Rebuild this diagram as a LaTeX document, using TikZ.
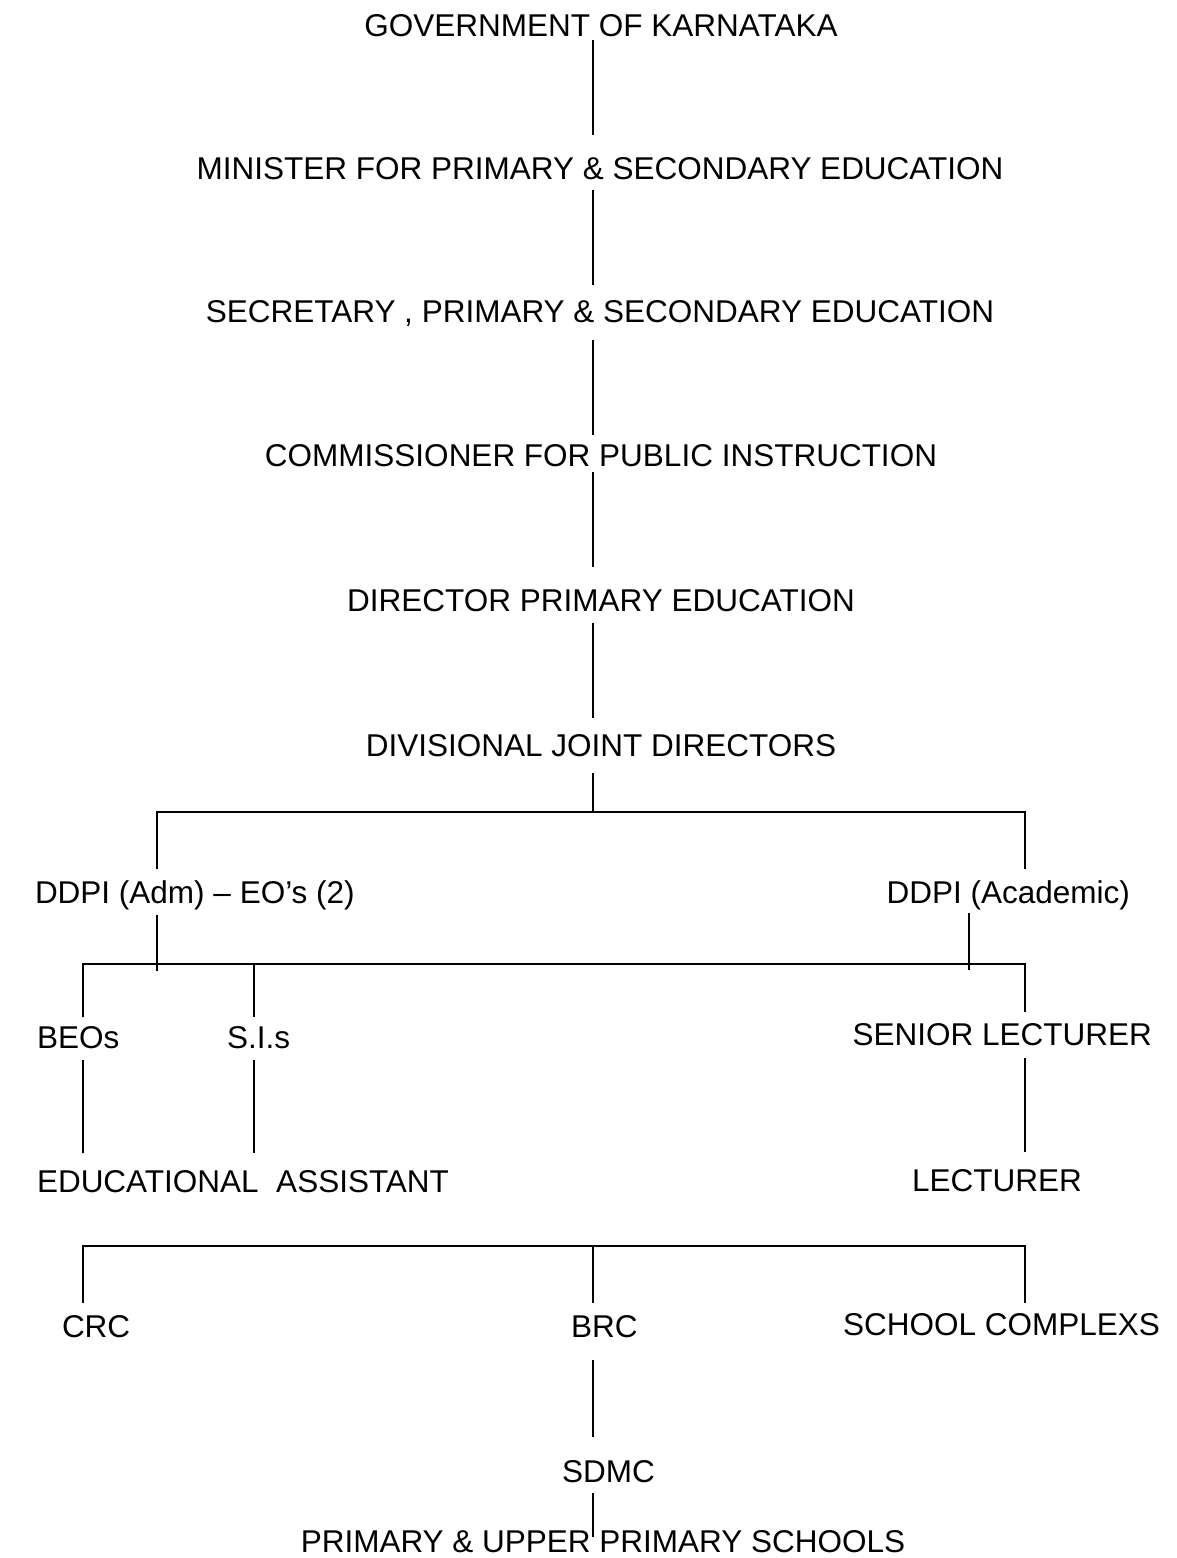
\documentclass[tikz,border=0pt]{standalone}
\usepackage{fontspec}
\setmainfont{Liberation Sans}
\begin{document}
\begin{tikzpicture}[x=1pt,y=-1pt,
  lbl/.style={inner sep=0pt,outer sep=0pt,text height=22.5pt,text depth=0pt,
    font=\fontsize{31.5}{36}\selectfont},
  conn/.style={line width=2pt,line cap=butt,line join=miter}]
\useasboundingbox (0,0) rectangle (1177,1558);

% ---- nodes
\node[lbl] (gov) at (601,25) {GOVERNMENT OF KARNATAKA};
\node[lbl] (min) at (600,168) {MINISTER FOR PRIMARY \& SECONDARY EDUCATION};
\node[lbl] (sec) at (600,311) {SECRETARY , PRIMARY \& SECONDARY EDUCATION};
\node[lbl] (com) at (601,455) {COMMISSIONER FOR PUBLIC INSTRUCTION};
\node[lbl] (dir) at (601,600) {DIRECTOR PRIMARY EDUCATION};
\node[lbl] (div) at (601,745) {DIVISIONAL JOINT DIRECTORS};
\node[lbl,anchor=west] (ddpiadm) at (35,892) {DDPI (Adm) – EO’s (2)};
\node[lbl,anchor=east] (ddpiac) at (1130,892) {DDPI (Academic)};
\node[lbl,anchor=west] (beos) at (37,1037) {BEOs};
\node[lbl,anchor=west] (sis) at (227,1037) {S.I.s};
\node[lbl,anchor=east] (senior) at (1152,1034) {SENIOR LECTURER};
\node[lbl,anchor=west] (edu) at (37,1181) {EDUCATIONAL\hspace{0.28em} ASSISTANT};
\node[lbl,anchor=west] (lect) at (912,1180) {LECTURER};
\node[lbl,anchor=west] (crc) at (62,1326) {CRC};
\node[lbl,anchor=west] (brc) at (571,1326) {BRC};
\node[lbl,anchor=east] (school) at (1160,1324) {SCHOOL COMPLEXS};
\node[lbl,anchor=west] (sdmc) at (562,1471) {SDMC};
\node[lbl] (prim) at (603,1541) {PRIMARY \& UPPER PRIMARY SCHOOLS};

% ---- junction coordinates
\coordinate (tr) at (593,0);
\coordinate (j1) at (593,812);
\coordinate (a1) at (157,812);
\coordinate (a2) at (1025,812);
\coordinate (b1) at (157,971);
\coordinate (b2) at (969,970);
\coordinate (c1) at (83,964);
\coordinate (c2) at (254,964);
\coordinate (c3) at (1025,964);
\coordinate (d1) at (83,1246);
\coordinate (d2) at (593,1246);
\coordinate (d3) at (1025,1246);

% ---- trunk
\draw[conn] ([yshift=-4pt]gov.south -| tr) -- ([yshift=22pt]min.north -| tr);
\draw[conn] ([yshift=-11pt]min.south -| tr) -- ([yshift=15pt]sec.north -| tr);
\draw[conn] ([yshift=-18pt]sec.south -| tr) -- ([yshift=9pt]com.north -| tr);
\draw[conn] ([yshift=-6pt]com.south -| tr) -- ([yshift=22pt]dir.north -| tr);
\draw[conn] ([yshift=-12pt]dir.south -| tr) -- ([yshift=16pt]div.north -| tr);
\draw[conn] ([yshift=-17pt]div.south -| tr) -- (j1);

% ---- DDPI level
\draw[conn] ([yshift=12pt]ddpiadm.north -| a1) -- (a1) -- (a2) -- ([yshift=12pt]ddpiac.north -| a2);
\draw[conn] ([yshift=-12pt]ddpiadm.south -| a1) -- (b1);
\draw[conn] ([yshift=-10pt]ddpiac.south -| b2) -- (b2);

% ---- BEOs / S.I.s / Senior lecturer level
\draw[conn] ([yshift=9pt]beos.north -| c1) -- (c1) -- (c3) -- ([yshift=11pt]senior.north -| c3);
\draw[conn] (c2) -- ([yshift=9pt]sis.north -| c2);
\draw[conn] ([yshift=-12pt]beos.south -| c1) -- ([yshift=17pt]edu.north -| c1);
\draw[conn] ([yshift=-12pt]sis.south -| c2) -- ([yshift=17pt]edu.north -| c2);
\draw[conn] ([yshift=-13pt]senior.south -| c3) -- ([yshift=17pt]lect.north -| c3);

% ---- CRC / BRC / School complexes
\draw[conn] ([yshift=12pt]crc.north -| d1) -- (d1) -- (d3) -- ([yshift=10pt]school.north -| d3);
\draw[conn] (d2) -- ([yshift=12pt]brc.north -| d2);
\draw[conn] ([yshift=-23pt]brc.south -| d2) -- ([yshift=23pt]sdmc.north -| d2);
\draw[conn] ([yshift=-11pt]sdmc.south -| d2) -- ([yshift=-7pt]prim.north -| d2);
\end{tikzpicture}
\end{document}
